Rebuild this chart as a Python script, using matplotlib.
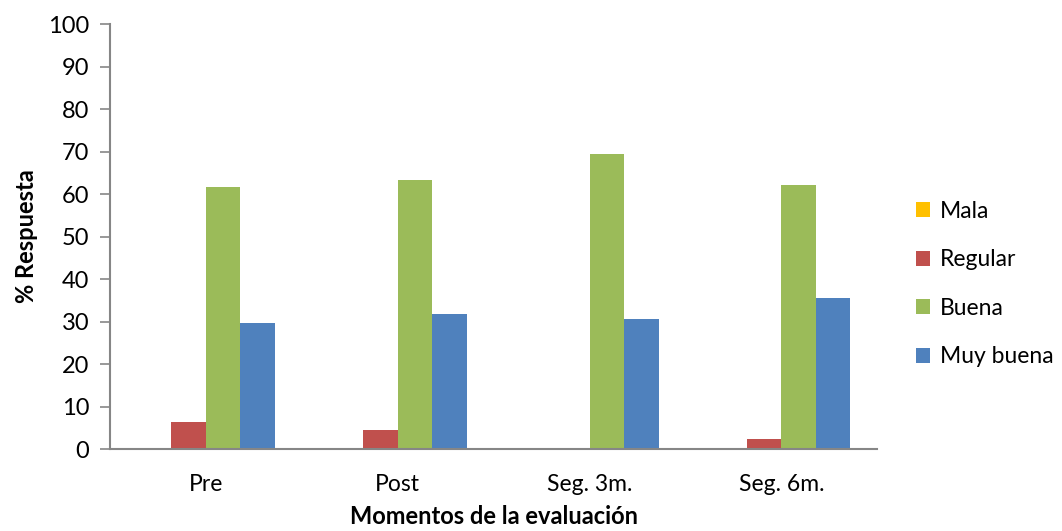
import numpy as np
import matplotlib
matplotlib.use("Agg")
import matplotlib.pyplot as plt
from matplotlib.patches import Patch

plt.rcParams['font.family'] = ['Lato', 'DejaVu Sans']

categories = ["Pre", "Post", "Seg. 3m.", "Seg. 6m."]
series_names = ["Mala", "Regular", "Buena", "Muy buena"]
mala = [0, 0, 0, 0]
regular = [6.4, 4.5, 0, 2.3]
buena = [61.6, 63.4, 69.3, 62.2]
muy_buena = [29.7, 31.8, 30.5, 35.5]
colors = ["#FFC000", "#C0504D", "#9BBB59", "#4F81BD"]
y_ticks = list(range(0, 101, 10))

fig = plt.figure(figsize=(10.62, 5.31), dpi=100)
ax = fig.add_axes([0.1036, 0.1544, 0.7224, 0.8004])

x = np.arange(len(categories))
width = 0.18
all_series = [mala, regular, buena, muy_buena]
for i, (vals, col) in enumerate(zip(all_series, colors)):
    offs = (i - 1.5) * width
    ax.bar(x + offs, vals, width=width, color=col, edgecolor='none', zorder=2)

ax.set_xlim(-0.5, len(categories) - 0.5)
ax.set_ylim(0, 100)
ax.set_yticks(y_ticks)
ax.set_yticklabels([str(t) for t in y_ticks], fontsize=17)
ax.set_xticks(x)
ax.set_xticklabels(categories, fontsize=16.5)
ax.tick_params(axis='x', length=0, pad=18)
ax.tick_params(axis='y', length=7, width=1.2, color='#868686', pad=8, direction='out')

for s in ['top', 'right']:
    ax.spines[s].set_visible(False)
for s in ['left', 'bottom']:
    ax.spines[s].set_color('#868686')
    ax.spines[s].set_linewidth(1.5)

ax.set_ylabel("% Respuesta", fontsize=17, fontweight='bold', labelpad=7)
fig.text(0.4647, 0.005, "Momentos de la evaluación", fontsize=17,
         fontweight='bold', ha='center', va='bottom')

handles = [Patch(facecolor=c, edgecolor='none') for c in colors]
fig.legend(handles, series_names, loc='center left', bbox_to_anchor=(0.843, 0.465),
           frameon=False, fontsize=16.5, handlelength=0.6, handleheight=0.6,
           handletextpad=0.45, labelspacing=1.2)

fig.savefig("out.png", dpi=100)
